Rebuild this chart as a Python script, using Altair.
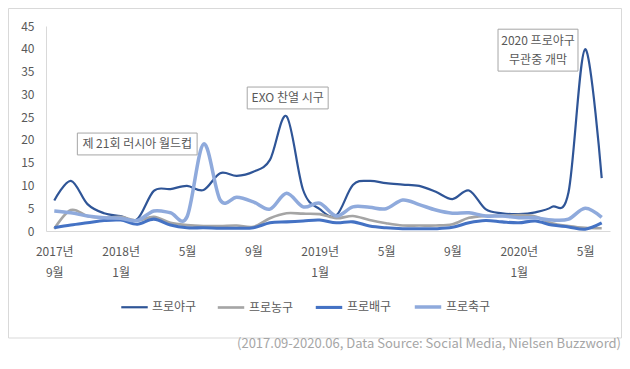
import json
import altair as alt
import pandas as pd

# ---- data -------------------------------------------------------------
series_names = ["프로야구", "프로농구", "프로배구", "프로축구"]
series_colors = ["#2F5597", "#A5A5A5", "#4472C4", "#8FAADC"]
series_widths = [2.2, 3.5, 3.5, 3.5]

# month index 0 = 2017-09 ... 33 = 2020-06
month_idx = list(range(34))

baseball = [6.7, 11.0, 5.9, 3.9, 3.3, 2.6, 8.8, 9.2, 9.9, 9.0,
            12.7, 12.1, 13.0, 15.6, 25.2, 9.0, 4.8, 3.4, 10.1, 11.0,
            10.5, 10.2, 9.9, 8.6, 7.0, 8.9, 4.8, 3.9, 3.7, 4.1,
            5.3, 8.5, 39.9, 11.6]
basketball = [0.5, 4.6, 3.3, 2.9, 3.1, 2.3, 3.1, 1.8, 1.3, 1.1,
              1.1, 1.2, 0.9, 2.8, 3.9, 3.8, 3.7, 2.8, 3.3, 2.4,
              1.7, 1.2, 1.2, 1.2, 1.5, 2.9, 3.3, 3.3, 3.5, 3.2,
              1.7, 1.1, 0.7, 0.6]
volleyball = [0.7, 1.3, 1.8, 2.3, 2.4, 1.5, 2.6, 1.3, 0.7, 0.7,
              0.6, 0.6, 0.7, 1.8, 2.0, 2.2, 2.4, 1.8, 2.0, 1.1,
              0.7, 0.5, 0.5, 0.5, 0.8, 1.8, 2.3, 2.0, 1.8, 2.2,
              1.3, 0.9, 0.4, 1.8]
soccer = [4.4, 4.0, 3.3, 2.9, 2.8, 2.3, 4.4, 4.0, 3.1, 19.1,
          6.8, 7.4, 6.4, 4.8, 8.3, 5.3, 6.1, 3.3, 5.3, 5.2,
          4.9, 6.8, 5.8, 4.6, 3.9, 4.0, 3.3, 3.3, 2.9, 2.9,
          2.4, 2.6, 5.0, 3.0]

tick_values = [0, 4, 8, 12, 16, 20, 24, 28, 32]
tick_labels = [["2017년", "9월"], ["2018년", "1월"], ["5월"], ["9월"],
               ["2019년", "1월"], ["5월"], ["9월"], ["2020년", "1월"], ["5월"]]
y_ticks = [0, 5, 10, 15, 20, 25, 30, 35, 40, 45]

# annotation boxes (month-index / value units)
box_x1 = [1.39, 11.63, 26.75]
box_x2 = [8.61, 16.51, 31.57]
box_y1 = [16.7, 26.8, 35.1]
box_y2 = [21.5, 31.6, 44.3]
# annotation text lines
ann_texts = ["제 21회 러시아 월드컵", "EXO 찬열 시구", "2020 프로야구", "무관중 개막"]
ann_x = [5.0, 14.07, 29.16, 29.16]
ann_y = [19.1, 29.2, 41.7, 37.5]

source_text = "(2017.09-2020.06, Data Source: Social Media, Nielsen Buzzword)"

FONT = "Noto Sans CJK KR"
TXT = "#595959"

# ---- tables -------------------------------------------------------------
rows = []
for name, vals in zip(series_names, [baseball, basketball, volleyball, soccer]):
    for i, v in zip(month_idx, vals):
        rows.append({"series": name, "m": i, "v": v})
df = pd.DataFrame(rows)

boxes_df = pd.DataFrame({"x1": box_x1, "x2": box_x2, "y1": box_y1, "y2": box_y2})
ann_df = pd.DataFrame({"text": ann_texts, "x": ann_x, "y": ann_y})

label_expr = "(" + json.dumps(tick_labels, ensure_ascii=False) + ")[round(datum.value/4)]"

xscale = alt.Scale(domain=[-0.5, 33.5], nice=False, zero=False)
yscale = alt.Scale(domain=[0, 45], nice=False)

x_axis = alt.Axis(values=tick_values, labelExpr=label_expr, grid=False,
                  ticks=False, domainColor="#D9D9D9", labelColor=TXT,
                  labelFont=FONT, labelFontSize=12, labelPadding=15,
                  labelLineHeight=21, labelBaseline="top", labelFlush=False,
                  labelOverlap=False)
y_axis = alt.Axis(values=y_ticks, grid=False, ticks=False,
                  domainColor="#D9D9D9", labelColor=TXT, labelFont=FONT,
                  labelFontSize=12, labelPadding=12, labelOverlap=False,
                  labelFlush=False)

lines = alt.Chart(df).mark_line(interpolate="cardinal").encode(
    x=alt.X("m:Q", scale=xscale, title=None, axis=x_axis),
    y=alt.Y("v:Q", scale=yscale, title=None, axis=y_axis),
    color=alt.Color("series:N", sort=series_names,
                    scale=alt.Scale(domain=series_names, range=series_colors),
                    legend=alt.Legend(orient="none", legendX=74, legendY=266,
                                      direction="horizontal", title=None,
                                      symbolType="stroke", symbolSize=700,
                                      symbolStrokeWidth=3, labelFont=FONT,
                                      labelFontSize=12, labelColor=TXT,
                                      labelOffset=3, columnPadding=15, padding=0)),
    strokeWidth=alt.StrokeWidth("series:N", sort=series_names,
                                scale=alt.Scale(domain=series_names, range=series_widths),
                                legend=None),
    detail="series:N",
    order="m:Q",
)

boxes = alt.Chart(boxes_df).mark_rect(fill="white", stroke="#A6A6A6", strokeWidth=1).encode(
    x=alt.X("x1:Q", scale=xscale, title=None, axis=x_axis), x2="x2:Q",
    y=alt.Y("y1:Q", scale=yscale, title=None, axis=y_axis), y2="y2:Q",
)
ann_text = alt.Chart(ann_df).mark_text(font=FONT, fontSize=12, color=TXT,
                                       align="center", baseline="middle").encode(
    x=alt.X("x:Q", scale=xscale, title=None, axis=x_axis),
    y=alt.Y("y:Q", scale=yscale, title=None, axis=y_axis), text="text:N")

frame = alt.Chart(pd.DataFrame({"k": [0]})).mark_rect(
    fill="transparent", stroke="#D9D9D9", strokeWidth=1).encode(
    x=alt.value(-37.5), x2=alt.value(575.5), y=alt.value(-17.5), y2=alt.value(312))

src = alt.Chart(pd.DataFrame({"t": [source_text]})).mark_text(
    font=FONT, fontSize=13, color="#A6A6A6", align="right", baseline="middle").encode(
    x=alt.value(575), y=alt.value(318), text="t:N")

chart = alt.layer(frame, lines, boxes, ann_text, src).properties(
    width=564, height=205,
    autosize=alt.AutoSizeParams(type="none"),
    padding={"left": 38, "top": 18, "right": 12, "bottom": 120},
).configure_view(stroke=None)

chart.save("out.html", embed_options={"renderer": "svg", "actions": False})
